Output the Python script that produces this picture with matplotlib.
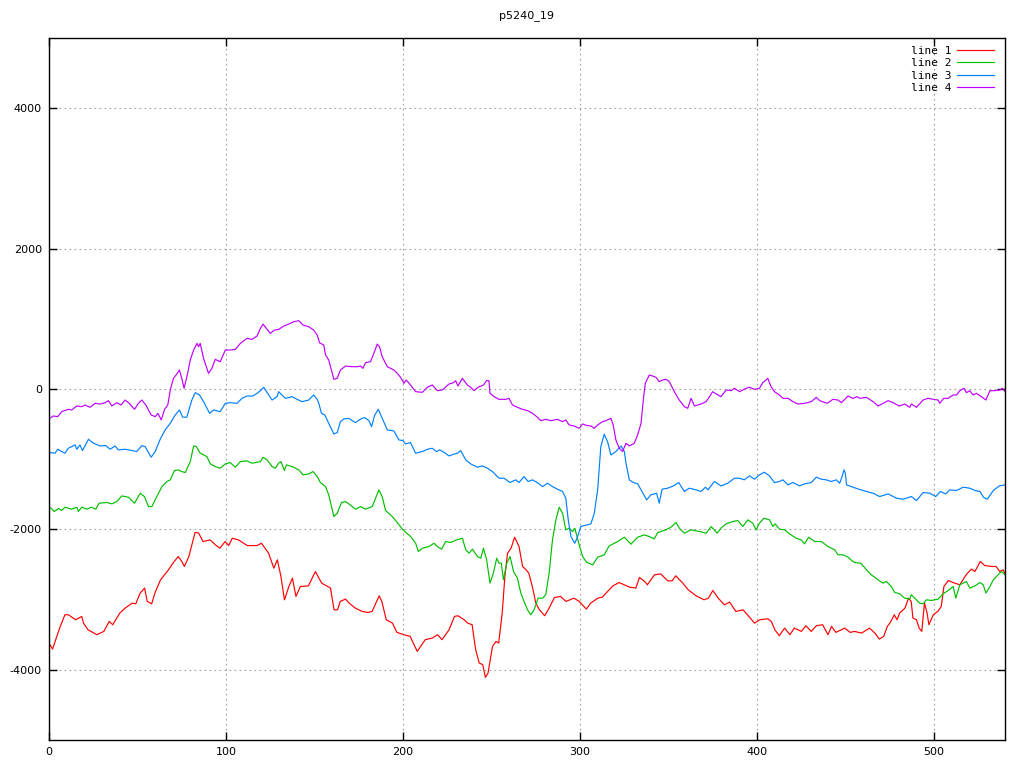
import matplotlib
matplotlib.use("Agg")
import matplotlib.pyplot as plt

plt.rcParams['axes.unicode_minus'] = False
plt.rcParams['font.family'] = ['DejaVu Sans']

title = "p5240_19"
labels = ["line 1", "line 2", "line 3", "line 4"]
colors = ["#ff0000", "#00c000", "#0080ff", "#c000ff"]
xticks = [0, 100, 200, 300, 400, 500]
yticks = [-4000, -2000, 0, 2000, 4000]

# (x, value) pairs
line1 = [(0, -3620), (2, -3705), (6, -3406), (9, -3216), (11, -3216), (15, -3287), (18.5, -3240),
         (19.5, -3335), (22, -3429), (27, -3500), (31, -3453), (34, -3311), (36, -3358), (40, -3192),
         (43, -3121), (47, -3050), (49, -3060), (51.5, -2907), (54, -2836), (55.5, -3026), (58, -3060),
         (60, -2894), (63, -2718), (67.5, -2576), (70, -2481), (73, -2386), (75, -2457), (76.5, -2528),
         (79, -2386), (82.5, -2044), (84.5, -2050), (87, -2173), (91, -2150), (94, -2220), (96.5, -2268),
         (99.5, -2173), (101.5, -2230), (103.5, -2126), (107, -2150), (112, -2230), (117.5, -2230),
         (120, -2197), (124, -2338), (127, -2552), (129, -2433), (131, -2670), (133, -3003),
         (135.5, -2813), (137.5, -2694), (139.5, -2955), (142, -2813), (146.5, -2805), (150.5, -2600),
         (154, -2765), (159, -2836), (161, -3145), (163, -3145), (164.5, -3026), (167.5, -2993),
         (169.5, -3050), (173, -3121), (177, -3169), (180, -3183), (182.5, -3169), (186.5, -2946),
         (188, -3026), (190.5, -3287), (194, -3335), (196.5, -3467), (200.5, -3500), (204, -3524),
         (208, -3738), (212.5, -3571), (216.5, -3548), (219.5, -3500), (222, -3571), (226, -3429),
         (229, -3240), (231, -3230), (234.5, -3287), (236.5, -3335), (239, -3358), (241, -3714),
         (243, -3903), (245, -3927), (246.5, -4108), (248, -4046), (250.5, -3667), (252.5, -3595),
         (254, -3619), (256, -3192), (257.5, -2670), (259, -2338), (261, -2268), (263, -2111),
         (265.5, -2244), (267.5, -2528), (269.5, -2576), (271, -2623), (273, -2813), (275, -3050),
         (277, -3145), (280, -3230), (282.5, -3121), (285.5, -2970), (289, -2955), (292, -3026),
         (296.5, -2979), (299.5, -3026), (303.5, -3135), (306, -3050), (310, -2979), (312.5, -2965),
         (315.5, -2884), (318.5, -2805), (322, -2757), (328, -2823), (331.5, -2836), (333.5, -2685),
         (336.5, -2742), (338, -2789), (342, -2647), (345.5, -2633), (349.5, -2733), (352, -2733),
         (354, -2661), (358, -2765), (361, -2860), (365.5, -2946), (370, -3003), (372.5, -2979),
         (375, -2870), (378, -2979), (381.5, -3074), (384.5, -3036), (388, -3169), (392, -3145),
         (394.5, -3216), (398.5, -3335), (401.5, -3287), (406, -3273), (408, -3311), (410, -3429),
         (412.5, -3514), (415.5, -3406), (418.5, -3500), (421, -3406), (425, -3453), (427.5, -3372),
         (430.5, -3453), (433.5, -3372), (437, -3358), (440, -3500), (442, -3382), (444.5, -3467),
         (449.5, -3406), (452.5, -3467), (455, -3453), (459, -3477), (463.5, -3406), (466.5, -3477),
         (469, -3562), (471.5, -3524), (473.5, -3382), (475, -3335), (477.5, -3216), (479, -3287),
         (480.5, -3192), (483.5, -3121), (485.5, -2979), (487, -3026), (488, -3264), (490, -3287),
         (491.5, -3406), (493, -3453), (494.5, -3050), (496, -3192), (497, -3358), (499.5, -3216),
         (502, -3169), (504, -3098), (505.5, -2813), (508, -2728), (511.5, -2765), (514.5, -2789),
         (518, -2647), (521, -2566), (523, -2600), (526, -2457), (528.5, -2514), (532.5, -2528),
         (535, -2528), (537, -2600), (539, -2576), (540, -2633)]

line2 = [(0.5, -1684), (3, -1745), (5.3, -1702), (7.2, -1730), (9, -1684), (12.8, -1712), (15.7, -1684),
         (16.6, -1745), (18.5, -1684), (21.3, -1712), (24.1, -1684), (26.4, -1712), (28.3, -1627),
         (32.6, -1617), (35.5, -1636), (38.3, -1603), (41.1, -1523), (44.9, -1541), (48.3, -1627),
         (51.5, -1485), (53.9, -1532), (56.2, -1675), (58.1, -1675), (60.9, -1532), (63.8, -1390),
         (66.6, -1318), (68.5, -1295), (70.9, -1162), (73, -1152), (75, -1176), (77, -1190),
         (79.8, -1034), (81.7, -811), (83.2, -820), (85.4, -915), (89.2, -963), (91.1, -1067),
         (93.9, -1105), (96.7, -1128), (99.6, -1067), (102.4, -1048), (105.2, -1114), (108.1, -1034),
         (111.8, -1024), (114.7, -1057), (119.4, -1034), (120.9, -972), (123.2, -1010), (126, -1105),
         (127.9, -1128), (129.7, -1057), (131, -1034), (133, -1162), (134.1, -1081), (137.3, -1105),
         (141.1, -1152), (143.5, -1223), (146.7, -1209), (149.2, -1176), (151.5, -1247),
         (153.3, -1332), (156.2, -1390), (158, -1508), (160.9, -1817), (162.8, -1770), (165.2, -1617),
         (167.5, -1603), (170.9, -1665), (173.1, -1712), (176, -1675), (178.8, -1712), (182.6, -1675),
         (186.3, -1437), (188.2, -1532), (190.1, -1730), (193.9, -1817), (196.7, -1902),
         (199.9, -2006), (204.2, -2100), (207.1, -2197), (208.6, -2315), (210.9, -2268),
         (214.6, -2244), (217.5, -2197), (219.4, -2244), (221.8, -2282), (224, -2173), (226.9, -2187),
         (229.5, -2155), (233.5, -2126), (235.4, -2291), (237.3, -2338), (239.2, -2282), (242, -2386),
         (243.9, -2410), (245.4, -2268), (247.2, -2433), (249.1, -2765), (251, -2623), (252.9, -2410),
         (254.2, -2481), (255.5, -2481), (256.7, -2718), (258.6, -2481), (260.4, -2386),
         (262.4, -2600), (264.6, -2694), (266.5, -2907), (268.3, -3026), (270.3, -3145),
         (272.1, -3216), (274, -3145), (276.3, -2979), (278.8, -2979), (280.6, -2931), (282.5, -2623),
         (284.4, -2149), (286.3, -1864), (288.2, -1684), (290.1, -1770), (291.9, -2006),
         (293.8, -1983), (295.7, -2030), (297, -1983), (299.5, -2220), (301.4, -2386), (303.8, -2471),
         (307.1, -2505), (309.9, -2396), (313.6, -2362), (316.4, -2235), (319.3, -2197),
         (321.2, -2173), (323.1, -2140), (325, -2111), (328.7, -2211), (332.5, -2111), (336.2, -2078),
         (339.1, -2102), (341.9, -2135), (343.8, -2045), (348.5, -2006), (351.3, -1969),
         (354.2, -1902), (356.1, -1983), (358.9, -2054), (362.7, -2006), (367.4, -2030),
         (371.2, -2054), (374, -1959), (377.4, -2054), (379.6, -1980), (382.5, -1921), (386.2, -1888),
         (389.1, -1874), (391.9, -1959), (394.7, -1864), (397.6, -1912), (399.4, -2006),
         (401.3, -1912), (403.8, -1841), (407, -1864), (408.9, -1959), (410.2, -1921), (412.6, -1997),
         (415.5, -2006), (418.3, -2064), (422.1, -2126), (424.9, -2150), (426.8, -2206),
         (429.1, -2111), (432.5, -2173), (436.3, -2173), (440, -2244), (443.8, -2291), (445.7, -2362),
         (448.5, -2362), (451.4, -2396), (453.6, -2448), (455.1, -2471), (458.5, -2481),
         (462.6, -2600), (464.5, -2647), (468.3, -2718), (471.1, -2765), (473, -2742), (475.8, -2813),
         (477.7, -2898), (480.5, -2917), (483.3, -2979), (486.2, -2993), (487.1, -2931), (489, -2979),
         (491.8, -3050), (493.7, -3060), (495.6, -3003), (498.4, -3012), (502.2, -2993),
         (505.1, -2917), (507.9, -2870), (510.7, -2813), (512.2, -2979), (514.5, -2789),
         (518.2, -2742), (520.1, -2836), (523, -2805), (525.8, -2757), (527.7, -2789), (529.2, -2907),
         (531.5, -2813), (533.4, -2718), (536.1, -2647), (538, -2600), (540, -2647)]

line3 = [(0.5, -906), (3.4, -915), (4.9, -858), (7.2, -891), (9, -915), (10.9, -844), (14.7, -797),
         (15.7, -858), (17.5, -797), (18.9, -877), (22.3, -716), (25.1, -773), (28.9, -811),
         (32.1, -806), (34.5, -858), (37.3, -811), (39.2, -868), (43, -858), (46.8, -877), (49.6, -891),
         (52.4, -806), (54.3, -820), (57.7, -972), (60, -891), (62.8, -716), (65.6, -583), (68.5, -489),
         (71.3, -370), (73.7, -299), (75.5, -400), (77.8, -403), (80.7, -157), (82.6, -52), (85, -85),
         (87.3, -180), (90.7, -346), (93, -299), (96.7, -322), (99.6, -204), (102.4, -195),
         (106.2, -204), (109, -133), (111.8, -100), (115.2, -100), (117.5, -62), (119.4, -24),
         (121.3, 24), (123.5, -62), (126, -157), (128.8, -109), (129.7, -38), (131.6, -85),
         (133.5, -133), (137.3, -109), (140.1, -147), (142.9, -180), (146.7, -157), (149.5, -85),
         (151.5, -147), (152.4, -204), (153.9, -346), (155.8, -370), (158, -489), (160.9, -640),
         (162.8, -621), (164.6, -465), (166.5, -427), (169.3, -418), (173.1, -479), (176, -427),
         (178.4, -408), (180.7, -451), (182.2, -536), (184, -370), (186, -290), (188.2, -418),
         (191.1, -583), (194.8, -597), (197.6, -725), (199.9, -735), (201.4, -782), (204.2, -763),
         (207.1, -915), (210.9, -891), (213.8, -858), (216.5, -844), (218.8, -891), (220.7, -868),
         (223.1, -901), (225.9, -953), (228.5, -930), (230.7, -915), (232.5, -877), (235.4, -1010),
         (238.2, -1067), (242, -1114), (244.8, -1095), (247.6, -1128), (250.5, -1176), (254.2, -1271),
         (257, -1271), (260.4, -1332), (263.7, -1294), (265.5, -1332), (268.3, -1247), (270.6, -1318),
         (273.1, -1294), (276.3, -1342), (278.8, -1390), (281.6, -1342), (284.4, -1390),
         (287.2, -1427), (290.1, -1460), (291.9, -1555), (293.3, -1864), (294.8, -2102),
         (297, -2197), (298.6, -2102), (300.4, -1959), (303.3, -1940), (306.1, -1921), (308, -1770),
         (309.9, -1437), (311.7, -821), (313.6, -645), (315.5, -749), (317.4, -939), (320.2, -891),
         (323.1, -811), (325, -891), (325.9, -1057), (327.8, -1294), (330, -1332), (332.5, -1351),
         (335.3, -1475), (337.6, -1579), (340, -1508), (343.2, -1485), (344.7, -1627), (346.3, -1427),
         (349.5, -1413), (352.7, -1380), (355.7, -1332), (358.9, -1460), (361.7, -1413),
         (365.5, -1437), (368.3, -1460), (370.8, -1399), (372.2, -1437), (375.8, -1318),
         (379.6, -1380), (383.4, -1342), (387.2, -1271), (390, -1271), (392.8, -1294), (395.7, -1237),
         (398.5, -1285), (401.3, -1223), (404.1, -1185), (406.9, -1237), (409.8, -1332),
         (412.6, -1318), (414.5, -1294), (417.4, -1366), (420.2, -1332), (423.9, -1380),
         (426.8, -1351), (430.6, -1332), (433.4, -1256), (436.2, -1285), (439, -1294), (441.9, -1318),
         (444.7, -1294), (446.6, -1342), (448, -1247), (449.1, -1152), (449.8, -1200), (450.5, -1366),
         (453.2, -1390), (456.5, -1420), (461.7, -1460), (465.5, -1485), (469.2, -1532), (474, -1494),
         (478.6, -1555), (482.4, -1570), (487.1, -1532), (490, -1589), (493.7, -1475), (497.5, -1485),
         (500.9, -1532), (503.5, -1460), (506.5, -1494), (508.8, -1437), (512.6, -1446),
         (516.4, -1399), (520.1, -1413), (523, -1446), (525.8, -1460), (528, -1546), (530, -1570),
         (533.4, -1446), (536.8, -1380), (540, -1366)]

line4 = [(0.5, -417), (2.5, -384), (4.9, -394), (7.2, -322), (10.9, -289), (12.8, -299), (15.7, -242),
         (18.5, -252), (20.4, -228), (23.2, -261), (26, -204), (28.9, -214), (31.7, -195), (33.6, -166),
         (35.5, -242), (38.3, -195), (40.7, -228), (43, -157), (45.3, -204), (48.3, -289), (50.5, -204),
         (52.4, -157), (54.7, -228), (57.7, -370), (60, -394), (61.5, -346), (63.4, -441), (65.3, -289),
         (67.1, -228), (68.5, -14), (70.3, 152), (72.2, 214), (73.7, 270), (75, 152), (76.3, 10),
         (77.9, 176), (79.8, 413), (81.7, 555), (83.6, 650), (84.5, 602), (85.4, 650), (87.3, 436),
         (90.1, 223), (92, 294), (93.9, 422), (96.7, 389), (99.6, 555), (102.4, 555), (105.2, 564),
         (108.1, 650), (111.8, 721), (114.7, 707), (117.5, 754), (119.4, 863), (120.9, 925),
         (122.8, 863), (125, 792), (127.3, 839), (129.7, 849), (132.6, 896), (135.4, 925),
         (138.2, 958), (141.1, 973), (143.5, 911), (146.7, 887), (149.5, 839), (151.5, 768),
         (152.8, 659), (155.2, 626), (156.2, 484), (158, 413), (159.5, 270), (160.9, 138),
         (162.8, 152), (164.6, 270), (167.5, 327), (170.9, 318), (174.1, 318), (176, 327),
         (177.3, 294), (178.8, 375), (181.6, 389), (183.5, 508), (185.4, 640), (186.7, 602),
         (188.2, 460), (191.1, 318), (194.8, 270), (196.7, 223), (198.6, 166), (200.5, 81),
         (201.8, 128), (204.2, 57), (207.1, -38), (210.9, -47), (213.7, 24), (216.5, 57),
         (219.4, -24), (222.2, -14), (225.9, 71), (228.5, 90), (229.7, 119), (231, 43), (233.5, 152),
         (236.3, 57), (238.2, 24), (240.1, -24), (242.3, 24), (245.4, 57), (247.2, 119), (248.5, 119),
         (249.1, -62), (251.4, -109), (254.2, -147), (258, -147), (259.8, -133), (261.8, -228),
         (264.6, -261), (267.4, -289), (270.3, -308), (273.1, -346), (275.9, -403), (277.8, -451),
         (280.6, -432), (283.5, -451), (287.2, -432), (290.1, -465), (291.9, -441), (293.8, -512),
         (296.6, -527), (299.5, -560), (301.4, -498), (303.8, -520), (306.1, -527), (308, -560),
         (309.9, -512), (312.7, -465), (314.6, -451), (317.4, -418), (318.7, -512), (320.2, -725),
         (322.1, -844), (324, -891), (325.9, -773), (327.8, -811), (330.6, -773), (332.5, -654),
         (334.4, -489), (335.7, -157), (336.8, 81), (339.1, 199), (341, 185), (342.9, 166),
         (344.7, 105), (346.6, 128), (348.5, 138), (350.4, 105), (353.2, -38), (356, -157),
         (358.9, -252), (360.8, -275), (362.7, -133), (364.6, -242), (368.3, -214), (371.2, -180),
         (374.9, -38), (377.8, -85), (379.6, -109), (382.5, -14), (385.3, -24), (387.2, 10),
         (390, -38), (393.8, 10), (395.7, 24), (398.5, -5), (401.3, 10), (403.2, 90), (406, 152),
         (407.9, 33), (409.8, -38), (412.6, -85), (414.5, -133), (417.4, -133), (420.2, -180),
         (423, -214), (426.8, -204), (430.6, -180), (433.4, -119), (435.3, -166), (439.6, -204),
         (442.8, -147), (445.7, -157), (447.6, -195), (451.3, -100), (454.1, -133), (456.5, -109),
         (457.9, -133), (461.7, -119), (465.5, -180), (468.3, -242), (471.1, -204), (474, -166),
         (476.8, -195), (480.2, -242), (483.3, -214), (486.2, -261), (487.1, -214), (490, -261),
         (493.7, -157), (496.5, -133), (499.4, -147), (502.2, -157), (503.1, -204), (505.4, -133),
         (507.9, -133), (510.7, -85), (512.6, -85), (514.5, -24), (516.8, 10), (518.2, -52),
         (520.1, -24), (522, -85), (523.9, -62), (526.7, -109), (529.2, -157), (531.5, -24),
         (534.3, -24), (537.1, -14), (538.6, 10), (540, -38)]

series = [line1, line2, line3, line4]

fig = plt.figure(figsize=(10.24, 7.68), dpi=100)
ax = fig.add_axes([49 / 1024, 1 - 740 / 768, 956 / 1024, 702 / 768])

for pts, lab, col in zip(series, labels, colors):
    xs = [p[0] for p in pts]
    ys = [p[1] for p in pts]
    ax.plot(xs, ys, color=col, lw=0.85, label=lab)

ax.set_xlim(0, 540)
ax.set_ylim(-5000, 5000)
ax.set_xticks(xticks)
ax.set_yticks(yticks)
ax.grid(True, color="#a0a0a0", linestyle=(0, (1.5, 3)), linewidth=0.8)
ax.tick_params(direction="in", length=6, width=1, top=True, right=True,
               labelsize=8, pad=5)
for s in ax.spines.values():
    s.set_linewidth(1.0)
    s.set_color("black")

ax.set_title(title, fontsize=8, pad=14)
leg = ax.legend(loc="upper right", frameon=False, markerfirst=False,
                prop={'family': 'DejaVu Sans Mono', 'size': 8},
                handlelength=3.4, handletextpad=0.5, labelspacing=0.22,
                borderaxespad=0.3, bbox_to_anchor=(0.997, 1.0))

fig.savefig("out.png", dpi=100)
